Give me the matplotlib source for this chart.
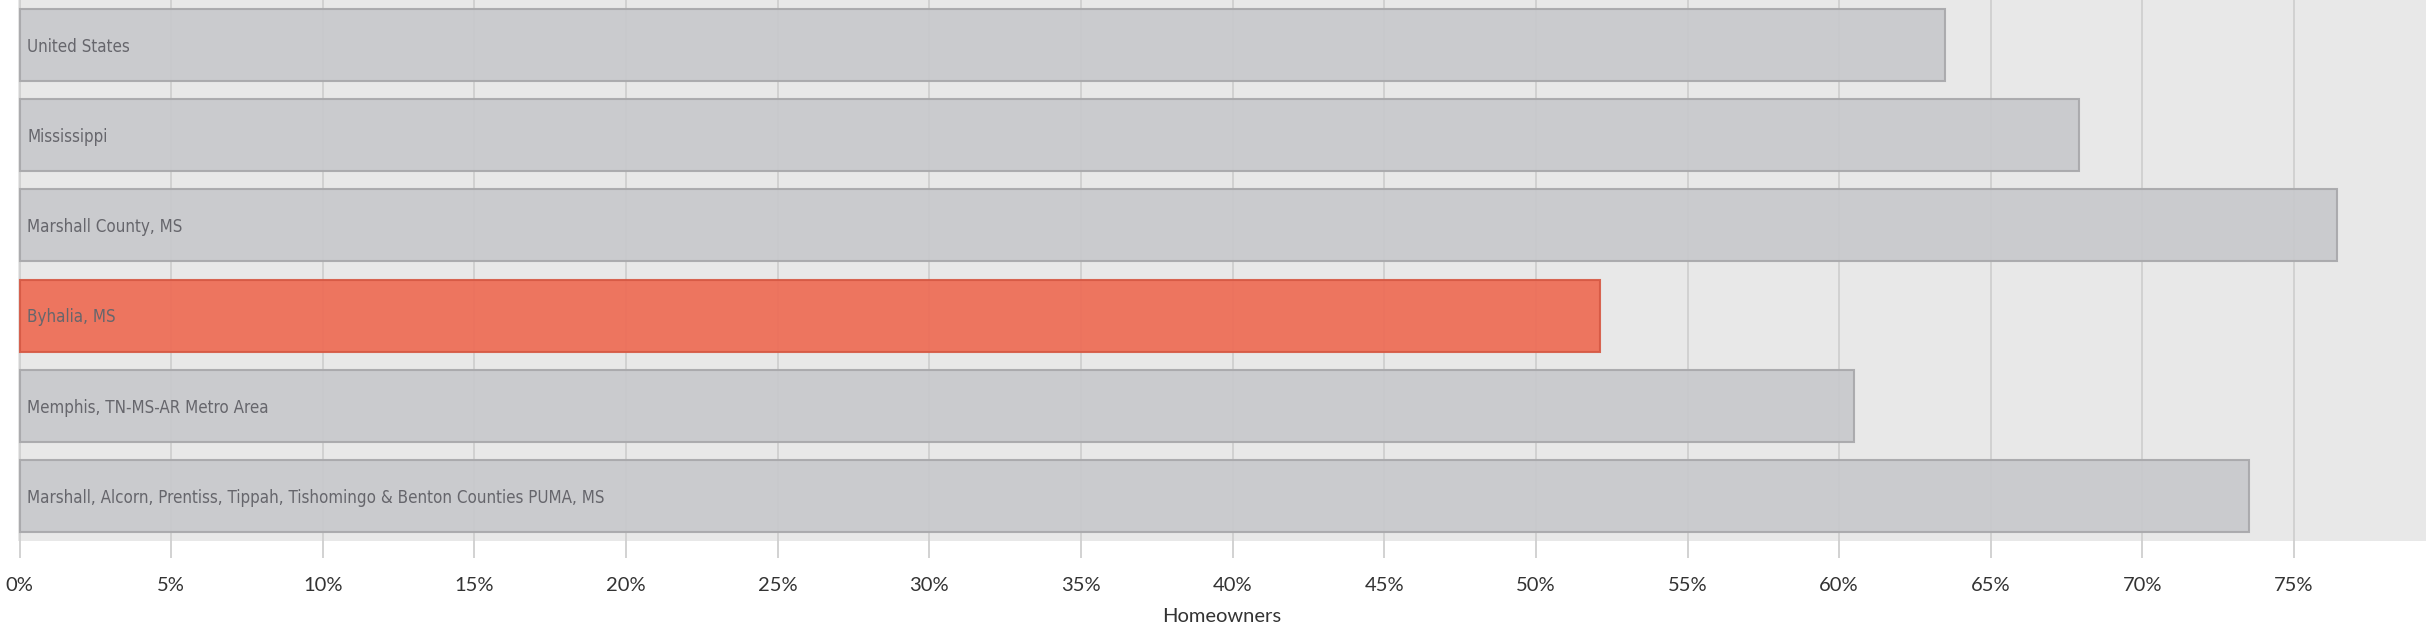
import matplotlib
matplotlib.use("Agg")
import matplotlib.pyplot as plt
from matplotlib.ticker import FuncFormatter

# data
places = ["United States", "Mississippi", "Marshall County, MS", "Byhalia, MS",
          "Memphis, TN-MS-AR Metro Area",
          "Marshall, Alcorn, Prentiss, Tippah, Tishomingo & Benton Counties PUMA, MS"]
homeowners = [63.5, 67.9, 76.4, 52.1, 60.5, 73.5]
highlight = "Byhalia, MS"
ticks = [0, 5, 10, 15, 20, 25, 30, 35, 40, 45, 50, 55, 60, 65, 70, 75]

fig = plt.figure(figsize=(24.26, 6.39), dpi=100)
ax = fig.add_axes([18 / 2426, 1 - 541 / 639, 1 - 18 / 2426, 541 / 639])
ax.set_facecolor("#e8e8e8")

fills = ["#ee6c55" if p == highlight else "#c8c9cc" for p in places]
edges = ["#d65a45" if p == highlight else "#a8a8ab" for p in places]
ypos = list(range(len(places)))
ax.barh(ypos, homeowners, height=0.8, color=fills, edgecolor=edges,
        linewidth=1.5, alpha=0.93, zorder=2)

# labels sit inside the bars, left aligned
for y, p in zip(ypos, places):
    ax.text(0.25, y + 0.02, p, va="center", ha="left", fontsize=12.2,
            family="DejaVu Sans", stretch="condensed", color="#66666c",
            zorder=3)

ax.set_ylim(len(places) - 0.5, -0.5)
ax.set_xlim(-0.05, 79.35)
ax.set_yticks([])
ax.set_xticks(ticks)
ax.xaxis.set_major_formatter(FuncFormatter(lambda v, _: f"{v:.0f}%"))
ax.grid(axis="x", color="#cfcfcf", linewidth=1.3, zorder=1)
ax.tick_params(axis="x", length=12, width=1.3, color="#cfcfcf", pad=14,
               labelsize=14.5, labelcolor="#333333")
for lbl in ax.get_xticklabels():
    lbl.set_family("Lato")
for s in ax.spines.values():
    s.set_visible(False)
ax.set_xlabel("Homeowners", fontsize=14.5, color="#333333", family="Lato", labelpad=10)

fig.savefig("out.png", dpi=100)
